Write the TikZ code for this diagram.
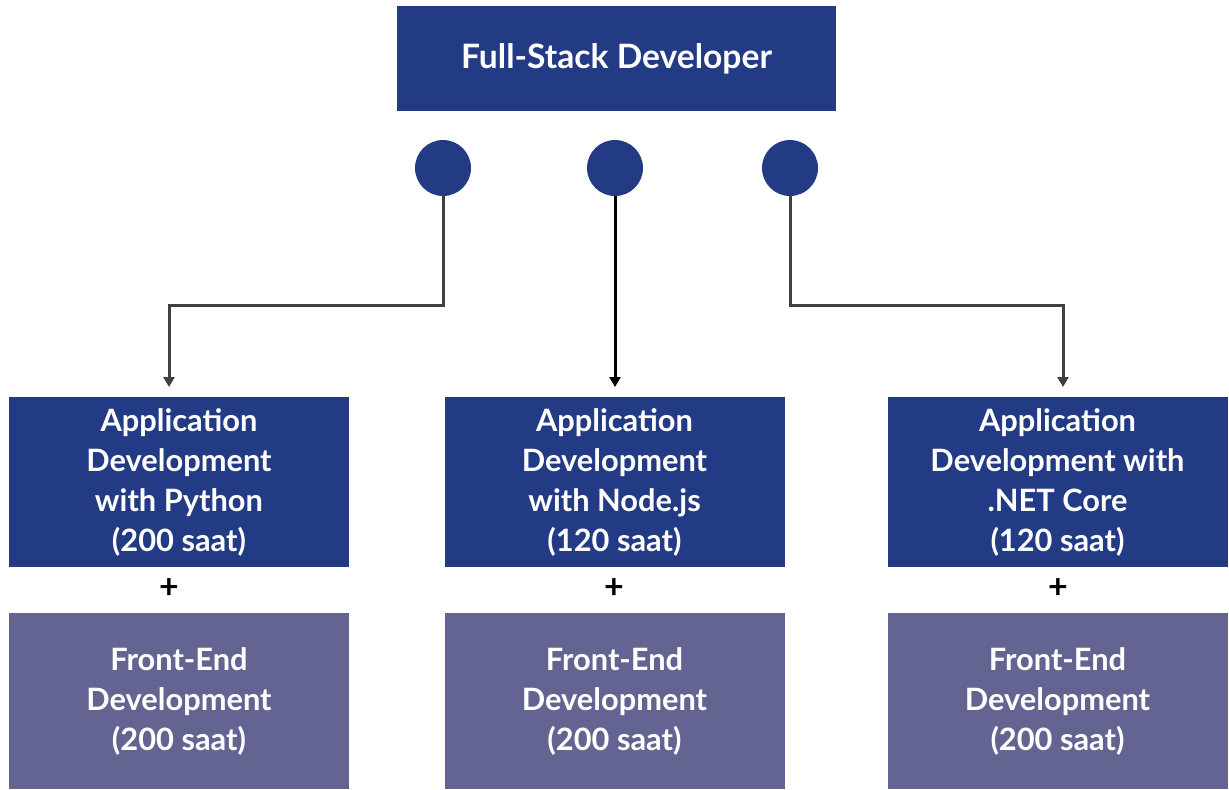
\documentclass[tikz,border=0pt]{standalone}
\usepackage{fontspec}
\setmainfont{Lato}[BoldFont={Lato Bold}]
\usetikzlibrary{arrows.meta,positioning}
\definecolor{navy}{RGB}{35,59,133}
\definecolor{lilac}{RGB}{100,100,147}
\definecolor{wire}{RGB}{64,64,64}
\tikzset{
  topbox/.style={fill=navy, text=white, font=\bfseries\fontsize{16.8}{20}\selectfont, minimum width=219.5pt, minimum height=52.5pt, inner sep=0pt},
  appbox/.style={fill=navy, text=white, font=\bfseries\fontsize{15.4}{20}\selectfont, align=center, minimum width=170pt, minimum height=85pt, inner sep=0pt},
  frontbox/.style={fill=lilac, text=white, font=\bfseries\fontsize{15.4}{20}\selectfont, align=center, minimum width=170pt, minimum height=88pt, inner sep=0pt},
  dot/.style={circle, fill=navy, minimum size=28pt, inner sep=0pt},
  plus/.style={font=\bfseries\fontsize{17}{18}\selectfont},
  link/.style={line width=1.5pt, color=wire, -{Triangle[length=5pt,width=5.5pt]}}
}
\begin{document}
\begin{tikzpicture}[x=0.5pt, y=-0.5pt]
		%%%%% START %%%%%
		\useasboundingbox (0, 0) rectangle (1229, 789);
		
		\node[topbox] (fsd) at (616.5, 58.5) {Full-Stack Developer};
		
		\node[dot] (c1) at (443, 168) {};
		\node[dot] (c2) at (615, 168) {};
		\node[dot] (c3) at (790, 168) {};
		
		\node[appbox] (py) at (179, 482) {Application\\Development\\with Python\\(200 saat)};
		\node[appbox] (js) at (614.5, 482) {Application\\Development\\with Node.js\\(120 saat)};
		\node[appbox] (net) at (1057.5, 482) {Application\\Development with\\.NET Core\\(120 saat)};
		
		\node[plus] (p1) at (169, 589) {+};
		\node[plus] (p2) at (614, 589) {+};
		\node[plus] (p3) at (1058, 589) {+};
		
		\node[frontbox] (fe1) at (179, 701) {Front-End\\Development\\(200 saat)};
		\node[frontbox] (fe2) at (614.5, 701) {Front-End\\Development\\(200 saat)};
		\node[frontbox] (fe3) at (1057.5, 701) {Front-End\\Development\\(200 saat)};
		
		\coordinate (t1) at (169, 387);
		\coordinate (t3) at (1063, 387);
		\coordinate (bend) at (0, 305);
		
		\draw[link] (c1.south) -- (c1.south |- bend) -| (t1);
		\draw[link, color=black] (c2.south) -- (c2.south |- t1);
		\draw[link] (c3.south) -- (c3.south |- bend) -| (t3);
		
		%%%%% END %%%%%
	\end{tikzpicture}
\end{document}
